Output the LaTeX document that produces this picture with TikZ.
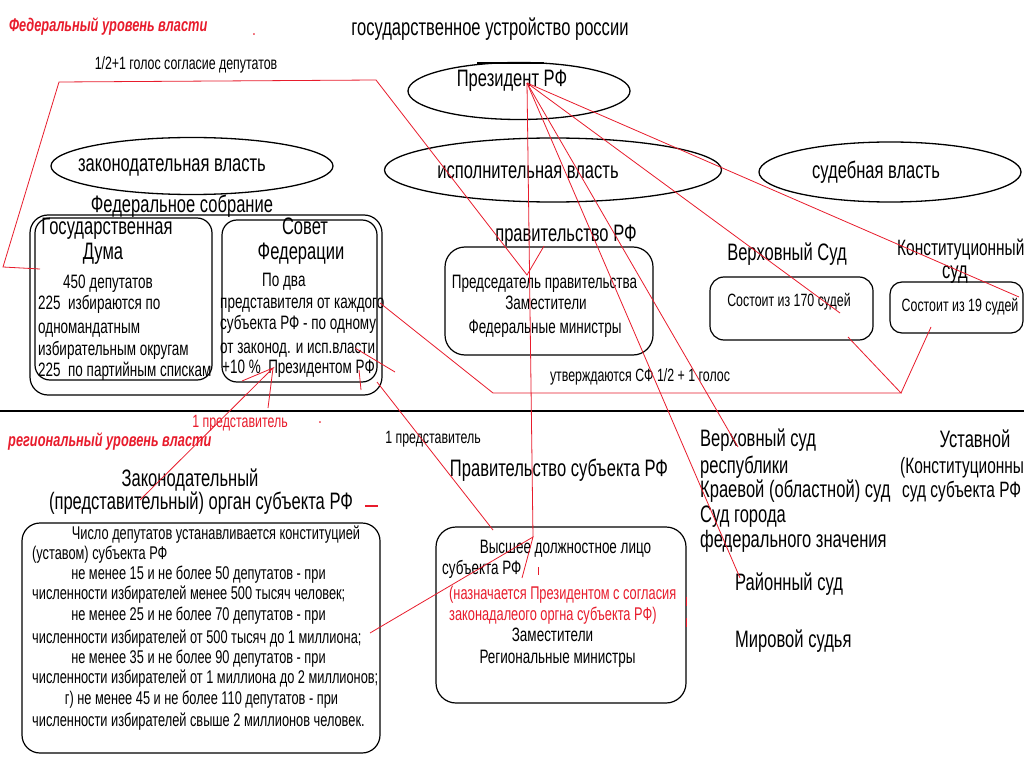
\documentclass[tikz,border=0pt]{standalone}
\usepackage{fontspec}
\setmainfont[FakeStretch=0.695]{Liberation Sans}
\usetikzlibrary{shapes.geometric}
\definecolor{rd}{RGB}{232,28,44}
\begin{document}
\begin{tikzpicture}[x=1pt,y=-1pt,
  t/.style={inner sep=0pt,anchor=mid,yshift=-3.5pt},
  tw/.style={inner sep=0pt,anchor=mid west,yshift=-3.5pt},
  fA/.style={font=\fontsize{23.8}{28}\selectfont},
  fK/.style={font=\fontsize{22.2}{26}\selectfont},
  fB/.style={font=\fontsize{19.4}{23}\selectfont},
  fC/.style={font=\fontsize{17.8}{21}\selectfont},
  fD/.style={font=\fontsize{18.4}{22}\selectfont},
  fR/.style={text=rd,font=\fontsize{18.4}{22}\selectfont\bfseries\itshape},
  ell/.style={ellipse,draw=black,line width=1.3pt,inner sep=0pt},
  rbox/.style={draw=black,line width=1.2pt,rounded corners=#1,inner sep=0pt},
  rl/.style={draw=rd,line width=0.8pt},
]
\path[use as bounding box,fill=white] (0,0) rectangle (1024,767);

% ellipses
\node[ell,minimum width=222pt,minimum height=57pt] (pres) at (519,91) {};
\draw[line width=2pt] (477,63.5) -- (544,63.5);
\node[ell,minimum width=282pt,minimum height=57pt] (zak) at (192,166) {};
\node[ell,minimum width=337pt,minimum height=64pt] (isp) at (553,170) {};
\node[ell,minimum width=262pt,minimum height=60pt] (sud) at (890,172) {};

% boxes
\node[rbox=18pt,minimum width=352pt,minimum height=180pt] (fs) at (206,305) {};
\node[rbox=15pt,minimum width=177pt,minimum height=162pt] (duma) at (123.5,299) {};
\node[rbox=15pt,minimum width=155pt,minimum height=162pt] (sf) at (299.5,301) {};
\node[rbox=20pt,minimum width=208pt,minimum height=108pt] (gov) at (549,301) {};
\node[rbox=14pt,minimum width=163pt,minimum height=63pt] (vs) at (791.5,308.5) {};
\node[rbox=12pt,minimum width=133pt,minimum height=51pt] (ks) at (956.5,307.5) {};
\node[rbox=18pt,minimum width=358pt,minimum height=230pt] (rleg) at (201,638) {};
\node[rbox=20pt,minimum width=250pt,minimum height=176pt] (rgov) at (561,615) {};

% divider
\coordinate (dl) at (0,411);
\coordinate (dr) at (1024,411);
\draw[line width=1.3pt] (dl) -- (dr);

% texts top
\node[tw,fR] (fed) at (9,25) {Федеральный уровень власти};
\node[t,fC,text=rd] (dot1) at (254,29) {.};
\node[t,fA] (title) at (490,29) {государственное устройство россии};
\node[t,fC] (half) at (186,63) {1/2+1 голос согласие депутатов};
\node[t,fA] (prestxt) at (512,80) {Президент РФ};
\node[t,fA] (zaktxt) at (172,165) {законодательная власть};
\node[t,fA] (isptxt) at (528,172) {исполнительная власть};
\node[t,fA] (sudtxt) at (876,172) {судебная власть};
\node[t,fA] (fstxt) at (182,206) {Федеральное собрание};
\node[t,fA] (gd1) at (107,228) {Государственная};
\node[t,fA] (gd2) at (103,253) {Дума};
\node[tw,fB] (d1) at (63,282) {450 депутатов};
\node[tw,fB] (d2) at (38,303) {225\ \ избираются по};
\node[tw,fB] (d3) at (38,327) {одномандатным};
\node[tw,fB] (d4) at (38,349) {избирательным округам};
\node[tw,fB] (d5) at (38,370) {225\ \ по партийным спискам};
\node[t,fA] (sf1) at (305,228) {Совет};
\node[t,fA] (sf2) at (301,253) {Федерации};
\node[tw,fB] (s1) at (262,280) {По два};
\node[tw,fB] (s2) at (220,302) {представителя от каждого};
\node[tw,fB] (s3) at (220,323) {субъекта РФ - по одному};
\node[tw,fB] (s4) at (220,347) {от законод. и исп.власти};
\node[tw,fB] (s5) at (222,367) {+10 \%\ \ Президентом РФ};
\node[t,fA] (govtxt) at (566,235) {правительство РФ};
\node[t,fB] (g1) at (544.5,282) {Председатель правительства};
\node[t,fB] (g2) at (546,303) {Заместители};
\node[t,fB] (g3) at (545,327) {Федеральные министры};
\node[t,fA] (vstxt) at (787,254) {Верховный Суд};
\node[t,fC] (vs1) at (789,300) {Состоит из 170 судей};
\node[tw,fK] (kstxt) at (897,249) {Конституционный};
\node[t,fA] (kstxt2) at (955,272) {суд};
\node[t,fC] (ks1) at (960,305) {Состоит из 19 судей};
\node[t,fC] (utv) at (640,375) {утверждаются СФ 1/2 + 1 голос};

% texts bottom
\node[t,fC,text=rd] (pr1) at (240,421) {1 представитель};
\node[t,fC,text=rd] (dot2) at (320,417) {.};
\node[tw,fR] (reg) at (8,440) {региональный уровень власти};
\node[t,fC] (pr2) at (433,437) {1 представитель};
\node[t,fA] (zo1) at (190,480) {Законодательный};
\node[t,fA] (zo2) at (201,503) {(представительный) орган субъекта РФ};
\node[t,fD] (r1) at (216,533) {Число депутатов устанавливается конституцией};
\node[tw,fD] (r2) at (32,553) {(уставом) субъекта РФ};
\node[t,fD] (r3) at (198.5,573) {не менее 15 и не более 50 депутатов - при};
\node[tw,fD] (r4) at (32,593) {численности избирателей менее 500 тысяч человек;};
\node[t,fD] (r5) at (198.5,614) {не менее 25 и не более 70 депутатов - при};
\node[tw,fD] (r6) at (32,637) {численности избирателей от 500 тысяч до 1 миллиона;};
\node[t,fD] (r7) at (198.5,657) {не менее 35 и не более 90 депутатов - при};
\node[tw,fD] (r8) at (32,677) {численности избирателей от 1 миллиона до 2 миллионов;};
\node[t,fD] (r9) at (201.5,698) {г) не менее 45 и не более 110 депутатов - при};
\node[tw,fD] (r10) at (32,720) {численности избирателей свыше 2 миллионов человек.};
\node[t,fA] (rgtxt) at (559,470) {Правительство субъекта РФ};
\node[t,fB] (v1) at (565.5,547) {Высшее должностное лицо};
\node[tw,fB] (v2) at (442,568) {субъекта РФ};
\node[tw,fD,text=rd] (v3) at (449,593) {(назначается Президентом с согласия};
\node[tw,fD,text=rd] (v4) at (449,614) {законадалеого оргна субъекта РФ)};
\node[t,fB] (v5) at (552.5,635) {Заместители};
\node[t,fB] (v6) at (557.5,657) {Региональные министры};
\node[tw,fA] (c1) at (700,440) {Верховный суд};
\node[tw,fA] (c2) at (700,467) {республики};
\node[tw,fA] (c3) at (700,491) {Краевой (областной) суд};
\node[tw,fA] (c4) at (700,516) {Суд города};
\node[tw,fA] (c5) at (700,541) {федерального значения};
\node[t,fA] (u1) at (975,441) {Уставной};
\node[tw,fK] (u2) at (900,467) {(Конституционны};
\node[tw,fK] (u3) at (902,491) {суд субъекта РФ};
\node[tw,fA] (c6) at (735,584) {Районный суд};
\node[tw,fA] (c7) at (735,641) {Мировой судья};

% red connectors
\coordinate (P) at (527,83);
\coordinate (a1) at (40,269);
\coordinate (a2) at (3,267);
\coordinate (a3) at (59,82);
\coordinate (a4) at (376,80);
\coordinate (a5) at (527,275);
\coordinate (a6) at (544,246);
\draw[rl] (a1) -- (a2) -- (a3) -- (a4) -- (a5) -- (a6);
\coordinate (hv) at (533,537);
\draw[rl] (P) -- (hv);
\coordinate (rs) at (740,578);
\draw[rl] (P) -- (rs);
\coordinate (vsr) at (738,447);
\draw[rl] (P) -- (vsr);
\coordinate (vse) at (840,313);
\draw[rl] (P) -- (vse);
\coordinate (kse) at (1019,297);
\draw[rl] (P) -- (kse);
\coordinate (b1) at (380,303);
\coordinate (b2) at (493,393);
\coordinate (b3) at (901,393);
\coordinate (b4) at (848,337);
\coordinate (b5) at (931,327);
\draw[rl] (b1) -- (b2) -- (b3) -- (b4);
\draw[rl] (b3) -- (b5);
\coordinate (e1) at (377,382);
\coordinate (e2) at (493,530);
\draw[rl] (e1) -- (e2);
\coordinate (f0) at (273,368);
\coordinate (f1) at (140,500);
\coordinate (f2) at (242,381);
\coordinate (f3) at (268,408);
\draw[rl] (f1) -- (f0) -- (f2);
\draw[rl] (f0) -- (f3);
\coordinate (g0) at (355,348);
\coordinate (g1e) at (395,372);
\draw[rl] (g0) -- (g1e);
\coordinate (h0) at (359,370);
\coordinate (h1) at (361,390);
\draw[rl] (h0) -- (h1);
\coordinate (k1) at (370,633);
\coordinate (k2) at (522,578);
\draw[rl] (k1) -- (hv) -- (k2);
\coordinate (m1) at (365,506);
\coordinate (m2) at (378,506);
\draw[rl,line width=1.2pt] (m1) -- (m2);
\coordinate (n1) at (538,567);
\coordinate (n2) at (538,575);
\draw[rl] (n1) -- (n2);
\coordinate (o1) at (686,597);
\coordinate (o2) at (686,606);
\draw[rl] (o1) -- (o2);
\coordinate (q1) at (686,618);
\coordinate (q2) at (686,627);
\draw[rl] (q1) -- (q2);
\end{tikzpicture}
\end{document}
